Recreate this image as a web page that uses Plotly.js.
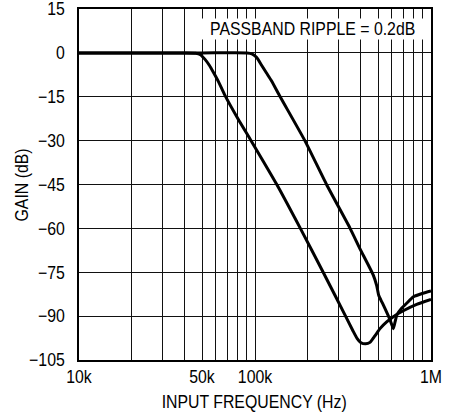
<!DOCTYPE html>
<html>
<head>
<meta charset="utf-8">
<script src="https://cdn.plot.ly/plotly-3.0.1.min.js"></script>
<style>html,body{margin:0;padding:0;background:#fff;}#chart{width:456px;height:419px;}</style>
</head>
<body>
<div id="chart"></div>
<script>
// Curve with the lower cutoff (~50kHz)
const freqLow = [10000, 20000, 40000, 46000, 49000, 52000, 55000, 58000, 62000, 67500, 80000, 95000, 133000, 181000, 244000, 327000, 360000, 380000, 400000, 425000, 450000, 480000, 513000, 560000, 611000, 700000, 829000, 1000000];
const gainLow = [0, 0, 0, -0.1, -0.6, -2.2, -4.2, -6.6, -9.8, -14.5, -22.5, -30, -45, -60, -75, -90, -95, -97.6, -99.1, -99.5, -99, -96.8, -94.3, -92, -90.2, -88.1, -86, -84.3];
// Curve with the higher cutoff (~100kHz)
const freqHigh = [10000, 50000, 90000, 96000, 102000, 109000, 116000, 124000, 139000, 192000, 255000, 347000, 395000, 470000, 491000, 505000, 530000, 585000, 611000, 625000, 640000, 681000, 728000, 795000, 900000, 1000000];
const gainHigh = [0, 0, 0, -0.3, -1.5, -4.2, -6.8, -9.5, -15, -30, -45, -60, -67, -76, -79.5, -83, -85.6, -91.3, -94.3, -92, -89.6, -87.3, -85.6, -83.4, -82.2, -81.4];

const xGrid = [10000,20000,30000,40000,50000,60000,70000,80000,90000,100000,200000,300000,400000,500000,600000,700000,800000,900000,1000000];
const xLabels = ['10k','','','','50k','','','','','100k','','','','','','','','','1M'];
const yTicks = [15,0,-15,-30,-45,-60,-75,-90,-105];
const yLabels = ['15','0','\u221215','\u221230','\u221245','\u221260','\u221275','\u221290','\u2212105'];
const xTitle = 'INPUT FREQUENCY (Hz)';
const yTitle = 'GAIN (dB)';
const note = 'PASSBAND RIPPLE = 0.2dB';

const font = 'Liberation Sans, Arial, sans-serif';
const line = {color:'#000', width:3, shape:'spline', smoothing:0.5};
const data = [
  {x:freqLow, y:gainLow, mode:'lines', line:line, hoverinfo:'skip'},
  {x:freqHigh, y:gainHigh, mode:'lines', line:line, hoverinfo:'skip'}
];
const layout = {
  width:456, height:419,
  margin:{l:79, r:25, t:9, b:59},
  paper_bgcolor:'#fff', plot_bgcolor:'#fff',
  showlegend:false,
  font:{family:font, size:18, color:'#000'},
  xaxis:{
    type:'log', range:[4,6], tickmode:'array', tickvals:xGrid, ticktext:xLabels,
    showgrid:true, gridcolor:'#111', gridwidth:1,
    showline:true, linecolor:'#000', linewidth:1.6, mirror:true,
    ticks:'', zeroline:false, ticklabeloverflow:'allow'
  },
  yaxis:{
    range:[-105.02,15.02], tickmode:'array', tickvals:yTicks, ticktext:yLabels,
    showgrid:true, gridcolor:'#111', gridwidth:1,
    showline:true, linecolor:'#000', linewidth:1.6, mirror:true,
    ticks:'', zeroline:false, ticklabelstandoff:9, ticklabeloverflow:'allow'
  },
  annotations:[
    {text:note, xref:'paper', yref:'paper', x:0.662, y:0.942,
     xanchor:'center', yanchor:'middle', showarrow:false,
     bgcolor:'#fff', borderpad:0, font:{family:font, size:18, color:'#000'}},
    {text:xTitle, xref:'paper', yref:'paper', x:0.497, y:-0.119,
     xanchor:'center', yanchor:'middle', showarrow:false,
     font:{family:font, size:18, color:'#000'}},
    {text:yTitle, xref:'paper', yref:'paper', x:-0.162, y:0.5, textangle:-90,
     xanchor:'center', yanchor:'middle', showarrow:false,
     font:{family:font, size:18, color:'#000'}}
  ]
};
Plotly.newPlot('chart', data, layout, {staticPlot:true, displayModeBar:false}).then(function(){
  // condense the lettering, like the narrow face of the original
  document.querySelectorAll('#chart svg text').forEach(function(t){
    if (!t.textContent) return;
    const L = t.getComputedTextLength();
    t.setAttribute('textLength', (L*0.88).toFixed(1));
    t.setAttribute('lengthAdjust', 'spacingAndGlyphs');
  });
});
</script>
</body>
</html>
